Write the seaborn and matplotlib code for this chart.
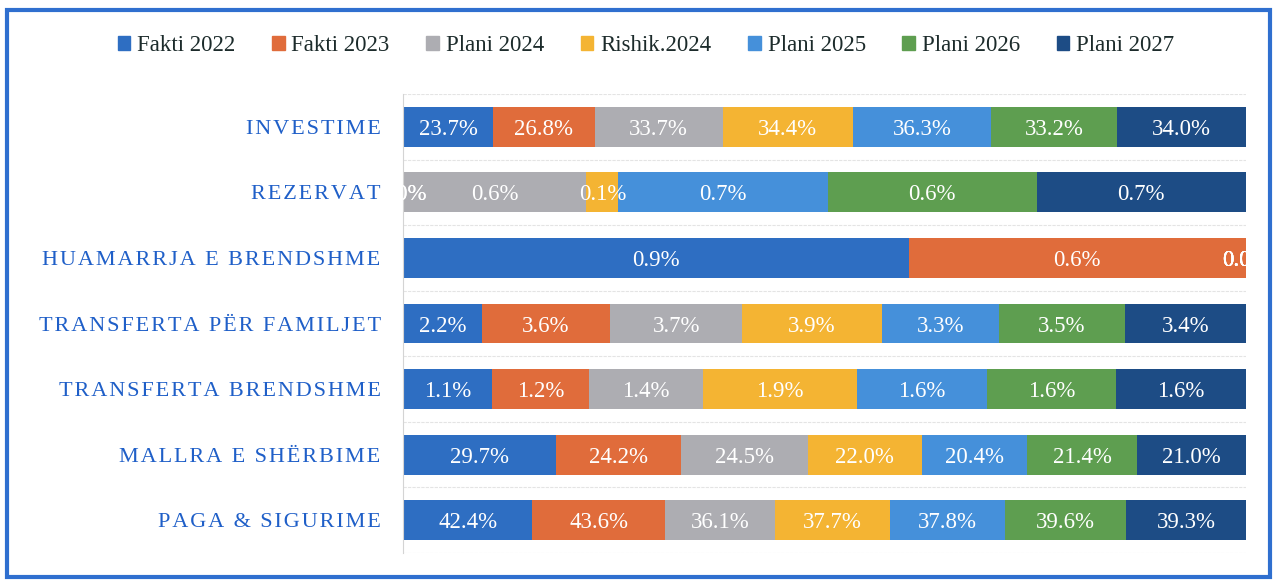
import pandas as pd
import matplotlib.pyplot as plt
import matplotlib.patches as mpatches
import seaborn as sns

categories = ["INVESTIME", "REZERVAT", "HUAMARRJA E BRENDSHME", "TRANSFERTA PËR FAMILJET",
              "TRANSFERTA BRENDSHME", "MALLRA E SHËRBIME", "PAGA & SIGURIME"]
series = ["Fakti 2022", "Fakti 2023", "Plani 2024", "Rishik.2024", "Plani 2025", "Plani 2026", "Plani 2027"]

fakti_2022 = [23.7, 0.0, 0.9, 2.2, 1.1, 29.7, 42.4]
fakti_2023 = [26.8, 0.0, 0.6, 3.6, 1.2, 24.2, 43.6]
plani_2024 = [33.7, 0.57, 0.0, 3.7, 1.4, 24.5, 36.1]
rishik_2024 = [34.4, 0.10, 0.0, 3.9, 1.9, 22.0, 37.7]
plani_2025 = [36.3, 0.651, 0.0, 3.3, 1.6, 20.4, 37.8]
plani_2026 = [33.2, 0.649, 0.0, 3.5, 1.6, 21.4, 39.6]
plani_2027 = [34.0, 0.651, 0.0, 3.4, 1.6, 21.0, 39.3]

colors = ["#2E6EC2", "#E06C3B", "#ADADB2", "#F4B433", "#4590DA", "#5E9E50", "#1D4C85"]

values = [fakti_2022, fakti_2023, plani_2024, rishik_2024, plani_2025, plani_2026, plani_2027]
rows = []
for s, vals in zip(series, values):
    for c, v in zip(categories, vals):
        rows.append({"kategoria": c, "seria": s, "vlera": v})
df = pd.DataFrame(rows)
df["seria"] = pd.Categorical(df["seria"], series, ordered=True)
df = df.sort_values(["kategoria", "seria"])
df["pjesa"] = df["vlera"] / df.groupby("kategoria")["vlera"].transform("sum") * 100
df["djathtas"] = df.groupby("kategoria")["pjesa"].cumsum()
df["majtas"] = df["djathtas"] - df["pjesa"]

sns.set_theme(style="white")
plt.rcParams["font.family"] = ["Liberation Serif", "DejaVu Serif"]

fig = plt.figure(figsize=(12.74, 5.81), dpi=100)
ax = fig.add_axes([0.3163, 0.0482, 0.6617, 0.790])

# bars drawn back to front: cumulative totals, last series first
for s, col in reversed(list(zip(series, colors))):
    d = df[df["seria"] == s]
    sns.barplot(data=d, x="djathtas", y="kategoria", order=categories, color=col,
                orient="h", width=0.61, linewidth=0, saturation=1, ax=ax)

for _, r in df.iterrows():
    ax.text(r["majtas"] + r["pjesa"] / 2, categories.index(r["kategoria"]),
            f"{r['vlera']:.1f}%", ha="center", va="center_baseline", color="white",
            fontsize=16.5, zorder=10, clip_on=True)

for y in [i - 0.5 for i in range(len(categories) + 1)]:
    ax.axhline(y, color="#e4e4e4", linewidth=0.8, linestyle=(0, (3, 1)), zorder=0)

ax.set_xlim(0, 100)
ax.set_ylim(len(categories) - 0.5, -0.5)
ax.set_xlabel("")
ax.set_ylabel("")
ax.set_xticks([])
ax.set_yticks(range(len(categories)))
ax.set_yticklabels(["\u200a".join(c) for c in categories], color="#1F5FC8", fontsize=16)
ax.tick_params(axis="y", length=0, pad=16)
for side in ["top", "right", "bottom"]:
    ax.spines[side].set_visible(False)
ax.spines["left"].set_color("#d4d4d4")
ax.spines["left"].set_linewidth(0.8)

handles = [mpatches.Patch(color=c, label=s) for s, c in zip(series, colors)]
fig.legend(handles=handles, loc="center", bbox_to_anchor=(0.507, 0.922), ncol=7,
           frameon=False, fontsize=16.5, handlelength=0.55, handleheight=0.55,
           handletextpad=0.3, columnspacing=1.6, labelcolor="#1c2b2b")

fig.patches.append(mpatches.Rectangle((0.0055, 0.0069), 0.9914, 0.976, transform=fig.transFigure,
                                      fill=False, edgecolor="#2F6FCF", linewidth=3))

plt.savefig("out.png", dpi=100)
